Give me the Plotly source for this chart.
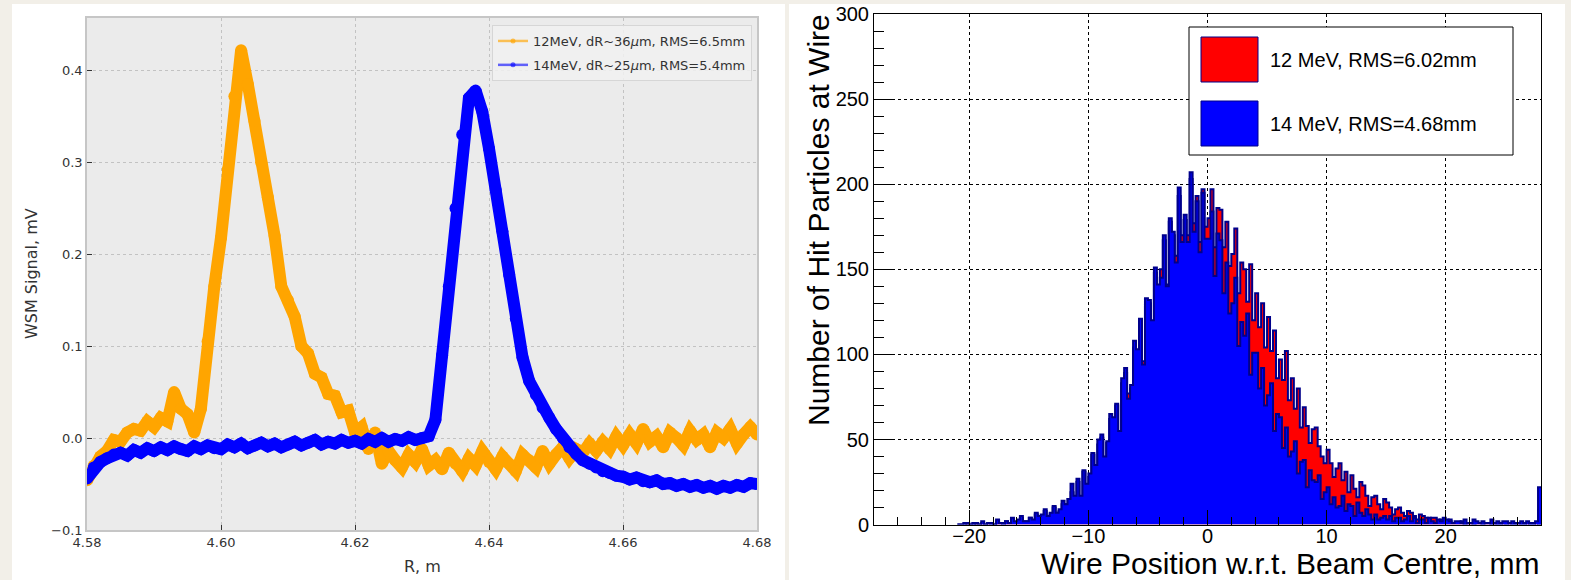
import numpy as np
import plotly.graph_objects as go

# ---------------- Left panel: WSM signal vs R ----------------
r_start = 4.580
r_step = 0.001
signal_12mev = [
    -0.046, -0.030, -0.020, -0.014, -0.002, -0.004, 0.006, 0.010, 0.008, 0.018,
    0.012, 0.022, 0.018, 0.050, 0.032, 0.026, 0.006, 0.032, 0.105, 0.165,
    0.218, 0.292, 0.372, 0.422, 0.385, 0.345, 0.300, 0.262, 0.220, 0.165,
    0.150, 0.132, 0.100, 0.092, 0.070, 0.066, 0.048, 0.046, 0.028, 0.030,
    0.006, 0.012, -0.012, 0.006, -0.028, -0.014, -0.024, -0.032, -0.018, -0.026,
    -0.012, -0.030, -0.024, -0.034, -0.016, -0.028, -0.036, -0.022, -0.030, -0.014,
    -0.026, -0.034, -0.020, -0.028, -0.036, -0.018, -0.024, -0.032, -0.014, -0.028,
    -0.018, -0.010, -0.022, -0.012, -0.016, -0.006, -0.014, -0.004, -0.012, 0.002,
    -0.008, 0.004, -0.006, 0.010, -0.004, 0.002, -0.010, 0.006, 0.000, -0.008,
    0.008, -0.002, 0.004, -0.010, 0.006, 0.000, 0.010, -0.006, 0.004, 0.012,
    0.004,
]
signal_14mev = [
    -0.044, -0.032, -0.026, -0.022, -0.018, -0.016, -0.019, -0.013, -0.016, -0.011,
    -0.014, -0.010, -0.013, -0.009, -0.012, -0.014, -0.009, -0.012, -0.008, -0.011,
    -0.012, -0.007, -0.010, -0.006, -0.011, -0.008, -0.005, -0.009, -0.006, -0.010,
    -0.007, -0.004, -0.008, -0.005, -0.002, -0.007, -0.004, -0.006, -0.002, -0.005,
    -0.003, -0.006, -0.001, -0.004, 0.000, -0.004, -0.001, -0.003, 0.001, -0.002,
    0.000, 0.002, 0.020, 0.090, 0.165, 0.250, 0.330, 0.370, 0.378, 0.355,
    0.315, 0.270, 0.225, 0.178, 0.130, 0.088, 0.062, 0.047, 0.033, 0.022,
    0.010, 0.000, -0.010, -0.017, -0.024, -0.028, -0.032, -0.036, -0.038, -0.041,
    -0.042, -0.045, -0.043, -0.047, -0.048, -0.046, -0.050, -0.049, -0.052, -0.050,
    -0.053, -0.051, -0.054, -0.052, -0.055, -0.052, -0.054, -0.051, -0.053, -0.049,
    -0.050,
]
left_labels = ["12MeV, dR~36<i>μ</i>m, RMS=6.5mm", "14MeV, dR~25<i>μ</i>m, RMS=5.4mm"]

# ---------------- Right panel: histogram ----------------
bin_start = -21.0
bin_width = 0.25
hits_12mev = [
    0, 0, 0, 1,  0, 0, 1, 0,  1, 0, 1, 0,  0, 2, 1, 0,  2, 1, 3, 1,
    2, 4, 2, 2,  4, 2, 6, 4,  5, 8, 5, 6,  10, 7, 8, 12,  12, 15, 19, 16,
    25, 16, 31, 22,  28, 41, 34, 47,  51, 38, 48, 62,  61, 70, 53, 83,  89, 77, 80, 104,
    101, 119, 96, 129,  130, 119, 148, 139,  150, 167, 141, 178,  170, 158, 193, 170,
    179, 170, 203, 177,  193, 166, 197, 175,  180, 197, 163, 186,  185, 163, 178, 152,
    159, 174, 136, 154,  150, 131, 153, 120,  136, 116, 130, 104,  122, 102, 114, 86,
    97, 85, 102, 73,  86, 68, 80, 57,  69, 58, 48, 56,  57, 46, 40, 36,
    44, 36, 28, 33,  36, 26, 31, 19,  29, 21, 16, 25,  23, 17, 11, 16,
    17, 12, 9, 15,  13, 10, 6, 9,  10, 7, 5, 8,  7, 5, 3, 6,  5, 4, 2, 4,
    4, 2, 3, 1,  2, 3, 1, 1,  1, 2, 0, 1,  1, 0, 1, 1,  0, 1, 1, 0,
    1, 0, 0, 1,  0, 1, 0, 0,  1, 0, 0, 1,  0, 0, 1, 0,
]
hits_14mev = [
    0, 0, 1, 0,  0, 1, 0, 0,  2, 0, 1, 1,  0, 3, 1, 1,  2, 1, 4, 2,
    3, 5, 2, 2,  4, 3, 7, 5,  6, 9, 5, 7,  11, 7, 9, 14,  12, 15, 24, 17,
    27, 17, 32, 24,  30, 42, 35, 50,  53, 40, 49, 65,  63, 71, 55, 86,  92, 74, 82, 108,
    103, 121, 94, 133,  132, 120, 151, 141,  145, 170, 140, 180,  172, 154, 198, 166,
    182, 166, 207, 172,  190, 160, 195, 168,  168, 184, 146, 171,  167, 136, 154, 124,
    130, 145, 105, 119,  111, 124, 88, 101,  101, 80, 92, 70,  76, 83, 55, 65,
    63, 45, 57, 40,  43, 49, 30, 37,  38, 22, 32, 26,  25, 29, 15, 19,
    22, 12, 16, 10,  11, 17, 8, 12,  11, 5, 13, 7,  5, 9, 6, 3,
    6, 3, 4, 5,  3, 5, 2, 4,  4, 2, 3, 5,  2, 4, 1, 3,  3, 1, 4, 2,
    1, 3, 2, 4,  3, 2, 1, 2,  2, 1, 3, 1,  1, 3, 2, 1,  2, 1, 1, 3,
    1, 2, 1, 2,  2, 1, 2, 1,  1, 2, 1, 2,  1, 1, 2, 22,
]
right_labels = ["12 MeV, RMS=6.02mm", "14 MeV, RMS=4.68mm"]

# ---------------- geometry helpers (pixel -> paper) ----------------
W, H = 1571, 580
def px(x):
    return x / W
def py(y):
    return 1 - y / H

r_vals = np.round(r_start + r_step * np.arange(len(signal_12mev)), 4)

def step_xy(counts):
    xs = bin_start + bin_width * np.arange(len(counts) + 1)
    ys = list(counts) + [counts[-1]]
    return xs, ys

fig = go.Figure()

# left data
fig.add_trace(go.Scatter(x=r_vals, y=signal_12mev, mode="lines+markers",
                         line=dict(color="#ffa500", width=12), marker=dict(color="#ffa500", size=12),
                         xaxis="x", yaxis="y", showlegend=False, hoverinfo="skip"))
fig.add_trace(go.Scatter(x=r_vals, y=signal_14mev, mode="lines+markers",
                         line=dict(color="#0000ff", width=12), marker=dict(color="#0000ff", size=12),
                         xaxis="x", yaxis="y", showlegend=False, hoverinfo="skip"))
# legend entries (semi-transparent as in the original)
fig.add_trace(go.Scatter(x=[None], y=[None], mode="lines+markers", name=left_labels[0],
                         line=dict(color="rgba(255,165,0,0.65)", width=2.5),
                         marker=dict(color="rgba(255,165,0,0.65)", size=5),
                         xaxis="x", yaxis="y", legendgroup="a"))
fig.add_trace(go.Scatter(x=[None], y=[None], mode="lines+markers", name=left_labels[1],
                         line=dict(color="rgba(0,0,255,0.6)", width=2.5),
                         marker=dict(color="rgba(0,0,255,0.6)", size=5),
                         xaxis="x", yaxis="y", legendgroup="b"))

# right histograms
navy = "#00008b"
xr, yr = step_xy(hits_12mev)
fig.add_trace(go.Scatter(x=xr, y=yr, mode="lines", line=dict(color=navy, width=2, shape="hv"),
                         fill="tozeroy", fillcolor="#ff0000", xaxis="x2", yaxis="y2",
                         showlegend=False, hoverinfo="skip"))
xb, yb = step_xy(hits_14mev)
fig.add_trace(go.Scatter(x=xb, y=yb, mode="lines", line=dict(color=navy, width=2, shape="hv"),
                         fill="tozeroy", fillcolor="#0000ff", xaxis="x2", yaxis="y2",
                         showlegend=False, hoverinfo="skip"))

left_font = "DejaVu Sans"
right_font = "Liberation Sans, Arial, Helvetica, sans-serif"

shapes = [
    dict(type="rect", xref="paper", yref="paper", x0=px(12), x1=px(785), y0=py(580), y1=py(4),
         fillcolor="white", line=dict(width=0), layer="below"),
    dict(type="rect", xref="paper", yref="paper", x0=px(789), x1=px(1565), y0=py(580), y1=py(4),
         fillcolor="white", line=dict(width=0), layer="below"),
    dict(type="rect", xref="paper", yref="paper", x0=px(87), x1=px(757), y0=py(530), y1=py(18),
         fillcolor="#ebebeb", line=dict(width=0), layer="below"),
    # ROOT-style legend
    dict(type="rect", xref="paper", yref="paper", x0=px(1189), x1=px(1513), y0=py(155), y1=py(27),
         fillcolor="white", line=dict(color="black", width=1), layer="above"),
    dict(type="rect", xref="paper", yref="paper", x0=px(1201), x1=px(1258), y0=py(82), y1=py(37),
         fillcolor="#ff0000", line=dict(color=navy, width=1), layer="above"),
    dict(type="rect", xref="paper", yref="paper", x0=px(1201), x1=px(1258), y0=py(146), y1=py(101),
         fillcolor="#0000ff", line=dict(color=navy, width=1), layer="above"),
]

annotations = [
    dict(text=right_labels[0], xref="paper", yref="paper", x=px(1268), y=py(59.5),
         xanchor="left", yanchor="middle", showarrow=False,
         font=dict(family=right_font, size=20, color="black")),
    dict(text=right_labels[1], xref="paper", yref="paper", x=px(1268), y=py(123.5),
         xanchor="left", yanchor="middle", showarrow=False,
         font=dict(family=right_font, size=20, color="black")),
    dict(text="Wire Position w.r.t. Beam Centre, mm", xref="paper", yref="paper",
         x=px(1541), y=py(563), xanchor="right", yanchor="middle", showarrow=False,
         font=dict(family=right_font, size=30, color="black")),
    dict(text="Number of Hit Particles at Wire", xref="paper", yref="paper",
         x=px(818), y=py(12), xanchor="center", yanchor="top", textangle=-90, showarrow=False,
         font=dict(family=right_font, size=30, color="black")),
    dict(text="WSM Signal, mV", xref="paper", yref="paper", x=px(32), y=py(274),
         xanchor="center", yanchor="middle", textangle=-90, showarrow=False,
         font=dict(family=left_font, size=16, color="#333333")),
    dict(text="R, m", xref="paper", yref="paper", x=px(422), y=py(566),
         xanchor="center", yanchor="middle", showarrow=False,
         font=dict(family=left_font, size=16, color="#333333")),
]

fig.update_layout(
    width=W, height=H, autosize=False,
    margin=dict(l=0, r=0, t=0, b=0, autoexpand=False),
    paper_bgcolor="#f2efe8",
    plot_bgcolor="rgba(0,0,0,0)",
    shapes=shapes,
    annotations=annotations,
    xaxis=dict(domain=[px(87), px(757)], range=[4.58, 4.68], anchor="y", automargin=False,
               tick0=4.58, dtick=0.02, tickformat=".2f",
               ticks="inside", ticklen=5, tickcolor="#333333", tickwidth=1,
               showgrid=True, gridcolor="#c2c2c2", griddash="dot", gridwidth=1,
               showline=True, linecolor="#c6c6c6", linewidth=1.5, mirror=True, zeroline=False,
               tickfont=dict(family=left_font, size=13, color="#333333")),
    yaxis=dict(domain=[py(530), py(18)], range=[-0.1, 0.457], anchor="x", automargin=False,
               tick0=0, dtick=0.1, tickformat=".1f",
               ticks="inside", ticklen=5, tickcolor="#333333", tickwidth=1,
               showgrid=True, gridcolor="#c2c2c2", griddash="dot", gridwidth=1,
               showline=True, linecolor="#c6c6c6", linewidth=1.5, mirror=True, zeroline=False,
               tickfont=dict(family=left_font, size=13, color="#333333")),
    xaxis2=dict(domain=[px(874), px(1541)], range=[-28, 28], anchor="y2", automargin=False,
                tick0=0, dtick=10, ticks="inside", ticklen=15, tickcolor="black", tickwidth=1,
                minor=dict(dtick=2, ticks="inside", ticklen=8, tickcolor="black", showgrid=False),
                showgrid=True, gridcolor="black", griddash="dot", gridwidth=1,
                showline=True, linecolor="black", linewidth=1, mirror=True, zeroline=False,
                ticklabelstandoff=-7,
                tickfont=dict(family=right_font, size=20, color="black")),
    yaxis2=dict(domain=[py(524.6), py(14)], range=[0, 300], anchor="x2", automargin=False,
                tick0=0, dtick=50, ticks="inside", ticklen=20, tickcolor="black", tickwidth=1,
                minor=dict(dtick=10, ticks="inside", ticklen=10, tickcolor="black", showgrid=False),
                showgrid=True, gridcolor="black", griddash="dot", gridwidth=1,
                showline=True, linecolor="black", linewidth=1, mirror=True, zeroline=False,
                tickfont=dict(family=right_font, size=20, color="black")),
    legend=dict(x=px(752), xanchor="right", y=py(25), yanchor="top",
                bgcolor="rgba(241,241,241,0.85)", bordercolor="#d6d6d6", borderwidth=1,
                font=dict(family=left_font, size=13, color="#333333"),
                tracegroupgap=4, itemwidth=30),
    showlegend=True,
)

fig.write_html("out.html", config={"displayModeBar": False},
               post_script="document.body.style.margin='0';document.body.style.overflow='hidden';")
